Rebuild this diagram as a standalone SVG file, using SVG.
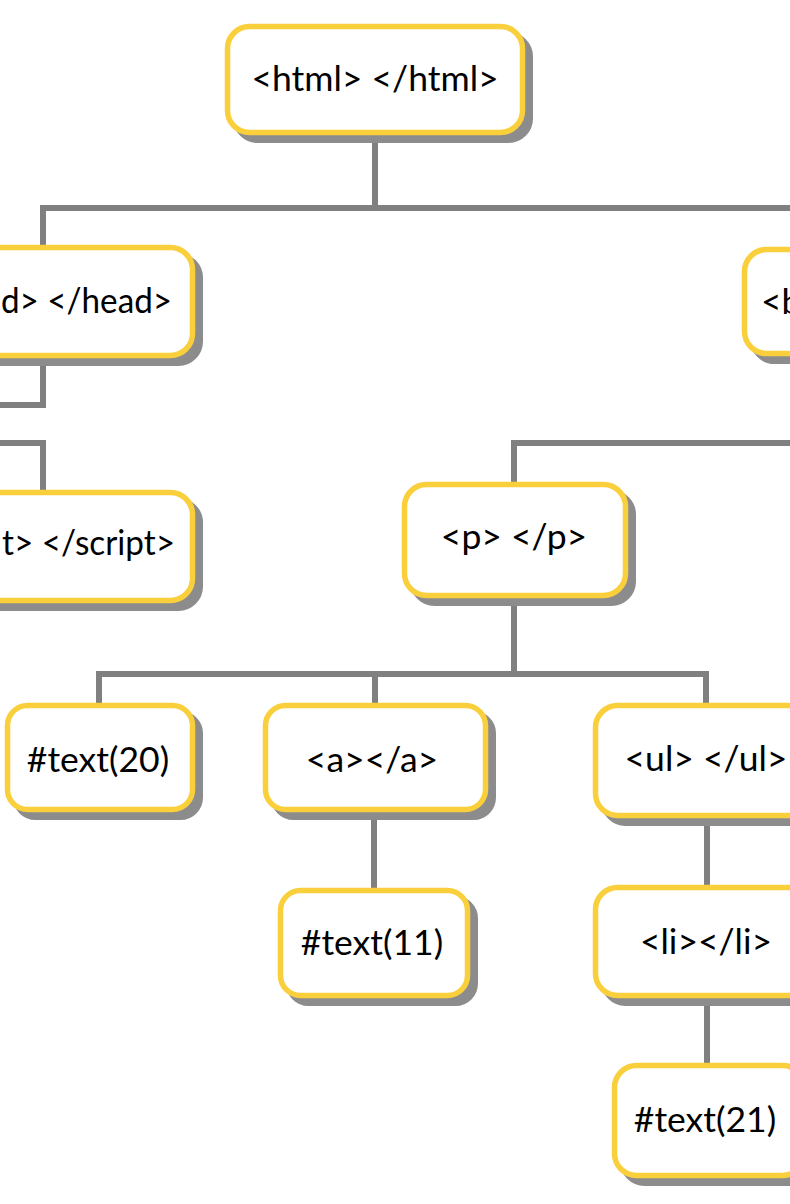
<svg xmlns="http://www.w3.org/2000/svg" width="790" height="1204" viewBox="0 0 790 1204">
<style>
.sh{fill:#8c8c8c;stroke:#8c8c8c;stroke-width:5}
.bx{fill:#ffffff;stroke:#f9cf3c;stroke-width:5.5}
.t{font-family:Lato,"Liberation Sans",sans-serif;font-size:35.5px;fill:#000000;text-anchor:middle}
.ts{font-family:Lato,"Liberation Sans",sans-serif;font-size:35.5px;fill:#000000;text-anchor:start}
.c{fill:none;stroke:#808080;stroke-width:6}
</style>
<rect width="790" height="1204" fill="#ffffff"/>
<g id="connectors">
<path class="c" d="M375 132 V208 M40 208 H795 M43 205 V249"/>
<path class="c" d="M43 356 V405 H-5"/>
<path class="c" d="M-5 443 H43 V493"/>
<path class="c" d="M511 443 H795 M514 440 V485"/>
<path class="c" d="M514 596 V674 M96 674 H709 M99 671 V706 M375 674 V706 M706 674 V706"/>
<path class="c" d="M374 810 V891"/>
<path class="c" d="M707 815 V888"/>
<path class="c" d="M707 996 V1066"/>
</g>
<g id="html">
<rect class="sh" x="235.5" y="34.5" width="295" height="106" rx="22"/>
<rect class="bx" x="227.5" y="26.5" width="295" height="106" rx="22"/>
<text class="t" x="375" y="91">&lt;html&gt; &lt;/html&gt;</text>
</g>
<g id="head">
<rect class="sh" x="-102" y="255.5" width="302.5" height="108" rx="22"/>
<rect class="bx" x="-110" y="247.5" width="302.5" height="108" rx="22"/>
<text class="ts" x="1" y="313" textLength="171" lengthAdjust="spacingAndGlyphs">d&gt; &lt;/head&gt;</text>
</g>
<g id="body">
<rect class="sh" x="752.5" y="257.5" width="300" height="104" rx="22"/>
<rect class="bx" x="744.5" y="249.5" width="300" height="104" rx="22"/>
<text class="ts" x="761" y="314">&lt;b</text>
</g>
<g id="script">
<rect class="sh" x="-102" y="500.5" width="302.5" height="108" rx="22"/>
<rect class="bx" x="-110" y="492.5" width="302.5" height="108" rx="22"/>
<text class="ts" x="2" y="555" textLength="173" lengthAdjust="spacingAndGlyphs">t&gt; &lt;/script&gt;</text>
</g>
<g id="p">
<rect class="sh" x="412.5" y="492.5" width="221" height="111" rx="22"/>
<rect class="bx" x="404.5" y="484.5" width="221" height="111" rx="22"/>
<text class="t" x="514" y="549">&lt;p&gt; &lt;/p&gt;</text>
</g>
<g id="text20">
<rect class="sh" x="15.5" y="713.5" width="185" height="104" rx="20"/>
<rect class="bx" x="7.5" y="705.5" width="185" height="104" rx="20"/>
<text class="t" x="98" y="772">#text(20)</text>
</g>
<g id="a">
<rect class="sh" x="273.5" y="713.5" width="220" height="104" rx="20"/>
<rect class="bx" x="265.5" y="705.5" width="220" height="104" rx="20"/>
<text class="t" x="372" y="772">&lt;a&gt;&lt;/a&gt;</text>
</g>
<g id="ul">
<rect class="sh" x="603.5" y="713.5" width="230" height="110" rx="22"/>
<rect class="bx" x="595.5" y="705.5" width="230" height="110" rx="22"/>
<text class="t" x="706" y="771">&lt;ul&gt; &lt;/ul&gt;</text>
</g>
<g id="text11">
<rect class="sh" x="288.5" y="898.5" width="187" height="105" rx="20"/>
<rect class="bx" x="280.5" y="890.5" width="187" height="105" rx="20"/>
<text class="t" x="372" y="955">#text(11)</text>
</g>
<g id="li">
<rect class="sh" x="603.5" y="895.5" width="230" height="108" rx="22"/>
<rect class="bx" x="595.5" y="887.5" width="230" height="108" rx="22"/>
<text class="t" x="706" y="954">&lt;li&gt;&lt;/li&gt;</text>
</g>
<g id="text21">
<rect class="sh" x="622.5" y="1073.5" width="190" height="110" rx="22"/>
<rect class="bx" x="614.5" y="1065.5" width="190" height="110" rx="22"/>
<text class="t" x="705" y="1132">#text(21)</text>
</g>
</svg>
